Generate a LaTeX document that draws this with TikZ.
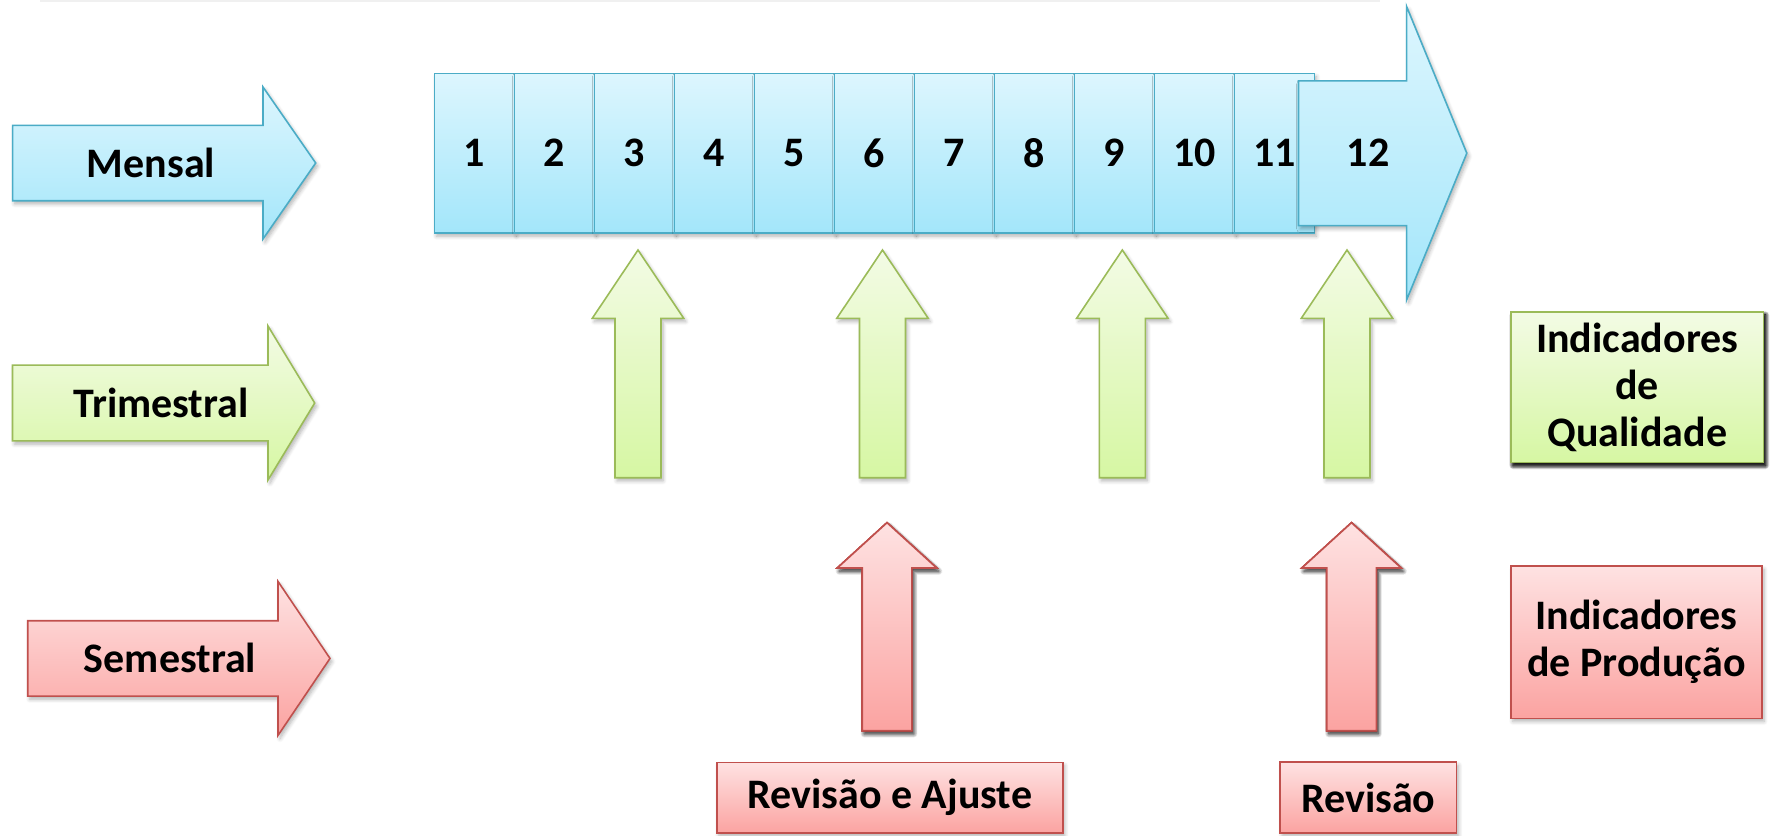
\documentclass[tikz,border=0pt]{standalone}
\usepackage{fontspec}
\setmainfont{Carlito}
\usepackage{tikz}
\usetikzlibrary{shadows.blur}
\definecolor{SkyLine}{HTML}{4BACC6}
\definecolor{SkyTop}{HTML}{DDF6FE}
\definecolor{SkyBot}{HTML}{A3E6FA}
\definecolor{LimeLine}{HTML}{9BBB59}
\definecolor{LimeTop}{HTML}{F3FBE5}
\definecolor{LimeBot}{HTML}{D6F7A3}
\definecolor{RoseLine}{HTML}{C0504D}
\definecolor{RoseTop}{HTML}{FEE2E2}
\definecolor{RoseBot}{HTML}{FBA3A1}
% arrow to the right: style, left x, mid y, shaft half, head x, head half, tip x
\newcommand{\rArrow}[7]{%
  \path[#1] (#2,#3-#4) -- (#5,#3-#4) -- (#5,#3-#6) -- (#7,#3)
    -- (#5,#3+#6) -- (#5,#3+#4) -- (#2,#3+#4) -- cycle;}
% arrow pointing up: style, mid x, tip y, head y, foot y, shaft half, head half
\newcommand{\uArrow}[7]{%
  \path[#1] (#2,#3) -- (#2+#7,#4) -- (#2+#6,#4) -- (#2+#6,#5)
    -- (#2-#6,#5) -- (#2-#6,#4) -- (#2-#7,#4) -- cycle;}
\tikzset{
  base/.style={
    line width=.8pt,
    blur shadow={shadow xshift=1pt,shadow yshift=-1.6pt,
      shadow blur steps=6,shadow opacity=30}
  },
  sky/.style={base,draw=SkyLine,top color=SkyTop,bottom color=SkyBot},
  lime/.style={base,draw=LimeLine,top color=LimeTop,bottom color=LimeBot},
  rose/.style={base,draw=RoseLine,top color=RoseTop,bottom color=RoseBot},
  lbl/.style={font=\fontsize{21}{23.5}\selectfont\bfseries,align=center},
  month/.style={sky,lbl,minimum width=40pt,minimum height=79.8pt,inner sep=0pt},
  tag/.style={lbl,inner sep=0pt}
}
\begin{document}
\begin{tikzpicture}[x=0.5pt,y=-0.5pt]
  \useasboundingbox (0,0) rectangle (1771,835);
  \draw[black!6,line width=1pt] (40,0.6) -- (1380,0.6);
  % periods
  \rArrow{sky}{12.6}{163}{37.7}{263}{76}{315.7}
  \rArrow{lime}{12.5}{403}{37.9}{268}{77}{314.7}
  \rArrow{rose}{27.7}{658.4}{37.7}{278}{77}{330}
  \node[lbl] (mensal) at (151,163) {Mensal};
  \node[lbl] (trim) at (161,403) {Trimestral};
  \node[lbl] (sem) at (170,658.4) {Semestral};
  % months
  \foreach \m in {1,...,11}
    \node[month] (m\m) at (394.4+80*\m,153.2) {\m};
  \rArrow{sky}{1298.5}{153.2}{72.4}{1406.6}{146.7}{1466.8}
  \node[lbl] (m12) at (1368,153.2) {12};
  % quarterly and half-yearly checks
  \foreach \x in {638,882.5,1122.3,1347}
    \uArrow{lime}{\x}{250}{318.3}{477.7}{23}{45.7}
  \foreach \x in {887,1351.5}
    \uArrow{rose}{\x}{522.7}{568}{730.7}{24.8}{49.7}
  % legends
  \node[lime,tag,minimum width=126.2pt,minimum height=75.3pt] (qual) at (1637.2,387) {Indicadores\\de\\Qualidade};
  \node[rose,tag,minimum width=125.6pt,minimum height=76.1pt] (prod) at (1636.4,642.2) {Indicadores\\de Produção};
  \node[rose,tag,minimum width=173pt,minimum height=35.4pt] (ajuste) at (889.8,797.7) {Revisão e Ajuste};
  \node[rose,tag,minimum width=88.3pt,minimum height=35.4pt] (revisao) at (1368.3,797.5) {Revisão};
\end{tikzpicture}
\end{document}
